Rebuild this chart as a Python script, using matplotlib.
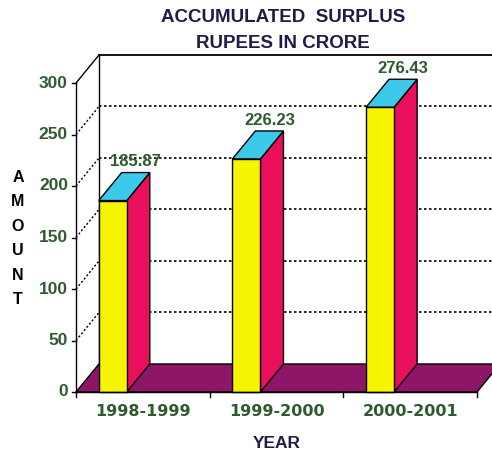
import matplotlib.pyplot as plt
from matplotlib.patches import Polygon, Rectangle

# Daten
years = ["1998-1999", "1999-2000", "2000-2001"]
surplus = [185.87, 226.23, 276.43]
y_ticks = [0, 50, 100, 150, 200, 250, 300]

# 3D-Optik
dx = 0.172      # Tiefe in Kategorie-Einheiten
dy = 27.2       # Tiefe in Wert-Einheiten
bar_off = 0.17
bar_w = 0.21
ymax = 300

front_col = "#f7f400"
side_col = "#ea0f5c"
top_col = "#3cc9ea"
floor_col = "#8e1668"
label_col = "#2f5a2f"
title_col = "#1f1c48"

fig = plt.figure(figsize=(4.92, 4.53), dpi=100)
ax = fig.add_axes([0, 0, 1, 1])
ax.set_xlim(-76 / 133.67, (492 - 76) / 133.67)
ax.set_ylim((392 - 453) / 1.03, 392 / 1.03)
ax.axis("off")

font = "Liberation Sans"
n = len(years)
xr = ax.get_xlim()[1] + 0.1

# Rueckwand: Gitter und Diagonalen
for v in y_ticks:
    if v == 0:
        continue
    ls = "-" if v == ymax else (0, (1.5, 1.5))
    ax.plot([0, dx], [v, v + dy], color="black", lw=1.0, ls=ls, zorder=1)
    ax.plot([dx, xr], [v + dy, v + dy], color="black", lw=1.3 if v == ymax else 1.2,
            ls=ls, zorder=1)
ax.plot([dx, dx], [dy, ymax + dy], color="black", lw=1.0, zorder=1)

# Boden
ax.add_patch(Polygon([(0, 0), (n, 0), (n + dx, dy), (dx, dy)], closed=True,
                     facecolor=floor_col, edgecolor="black", lw=1.0, zorder=2))

# Balken
for i, val in enumerate(surplus):
    x0 = i + bar_off
    x1 = x0 + bar_w
    ax.add_patch(Polygon([(x1, 0), (x1 + dx, dy), (x1 + dx, val + dy), (x1, val)],
                         closed=True, facecolor=side_col, edgecolor="black", lw=1.0, zorder=3))
    ax.add_patch(Polygon([(x0, val), (x1, val), (x1 + dx, val + dy), (x0 + dx, val + dy)],
                         closed=True, facecolor=top_col, edgecolor="black", lw=1.0, zorder=3))
    ax.add_patch(Rectangle((x0, 0), bar_w, val, facecolor=front_col,
                           edgecolor="black", lw=1.0, zorder=4))
    ax.text(x0 + bar_w / 2 + dx, val + dy + 3, f"{val:.2f}", ha="center", va="bottom",
            fontsize=12, fontweight="bold", color=label_col, family=font, zorder=5)

# Achsen vorne
ax.plot([0, 0], [0, ymax], color="black", lw=1.0, zorder=5)
ax.plot([0, n], [0, 0], color="black", lw=1.0, zorder=5)
for v in y_ticks:
    ax.plot([-0.03, 0], [v, v], color="black", lw=1.0, zorder=5)
    ax.text(-0.06, v, str(v), ha="right", va="center", fontsize=12.5,
            fontweight="bold", color=label_col, family=font)
for i in range(n + 1):
    ax.plot([i, i], [0, -5], color="black", lw=1.0, zorder=5)
for i, name in enumerate(years):
    ax.text(i + 0.5, -12, name, ha="center", va="top", fontsize=11.5,
            fontweight="bold", color=label_col, family="DejaVu Sans")

# Beschriftungen
fig.text(283 / 492, 1 - 18 / 453, "ACCUMULATED  SURPLUS", ha="center", va="center",
         fontsize=13.5, fontweight="bold", color=title_col, family=font)
fig.text(283 / 492, 1 - 44 / 453, "RUPEES IN CRORE", ha="center", va="center",
         fontsize=13.5, fontweight="bold", color=title_col, family=font)
for k, ch in enumerate("AMOUNT"):
    fig.text(18 / 492, 1 - (177 + 24.6 * k) / 453, ch, ha="center", va="center",
             fontsize=11.5, fontweight="bold", color="black", family=font)
fig.text(277 / 492, 1 - 443 / 453, "YEAR", ha="center", va="center",
         fontsize=12.5, fontweight="bold", color=title_col, family=font)

fig.savefig("out.png", dpi=100)
